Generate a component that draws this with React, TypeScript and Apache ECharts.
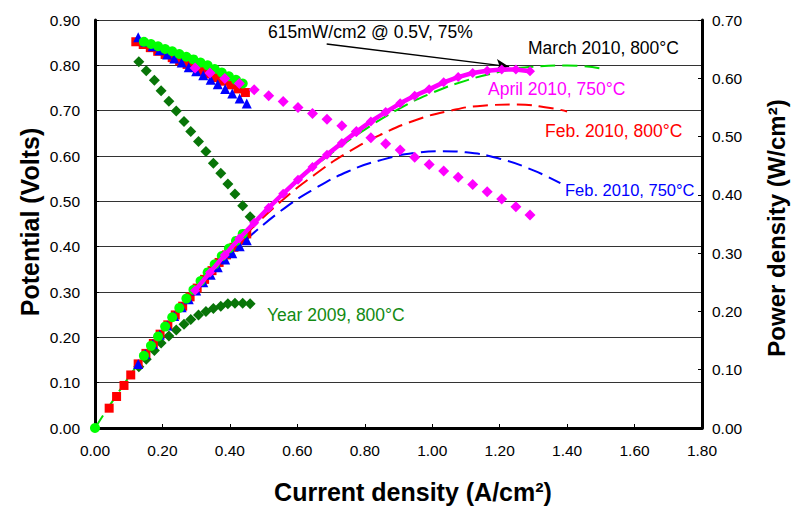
import React, { useEffect, useRef } from "react";
import * as echarts from "echarts";

// ---- Year 2009, 800°C (dark green diamonds)
const i2009 = [0.130, 0.152, 0.176, 0.196, 0.219, 0.241, 0.264, 0.284, 0.307, 0.329, 0.351, 0.373, 0.394, 0.415, 0.438, 0.460];
const v2009 = [0.808, 0.788, 0.767, 0.744, 0.721, 0.699, 0.676, 0.654, 0.632, 0.610, 0.584, 0.562, 0.538, 0.516, 0.490, 0.466];
const p2009 = [0.105, 0.118, 0.133, 0.146, 0.158, 0.168, 0.178, 0.186, 0.194, 0.200, 0.205, 0.209, 0.213, 0.214, 0.214, 0.213];

// ---- Feb. 2010, 800°C (red squares)
const iRedV = [0.121, 0.143, 0.164, 0.186, 0.208, 0.229, 0.251, 0.273, 0.294, 0.316, 0.338, 0.359, 0.381, 0.403, 0.424, 0.446];
const vRed = [0.852, 0.846, 0.839, 0.831, 0.824, 0.817, 0.810, 0.802, 0.795, 0.788, 0.781, 0.773, 0.765, 0.757, 0.748, 0.740];
const iRedP = [0.042, 0.064, 0.086, 0.106, 0.128, 0.151, 0.173, 0.193, 0.216, 0.238, 0.260, 0.282, 0.303, 0.325, 0.347, 0.368, 0.390, 0.412, 0.434, 0.450];
const pRed = [0.034, 0.054, 0.073, 0.091, 0.110, 0.128, 0.145, 0.161, 0.177, 0.194, 0.209, 0.225, 0.240, 0.255, 0.270, 0.284, 0.297, 0.310, 0.322, 0.333];
const iRedFit = [0.45, 0.55, 0.65, 0.75, 0.85, 0.95, 1.05, 1.15, 1.25, 1.35, 1.40];
const pRedFit = [0.334, 0.388, 0.434, 0.473, 0.504, 0.528, 0.544, 0.553, 0.555, 0.549, 0.543];

// ---- Feb. 2010, 750°C (blue triangles)
const iBlue = [0.128, 0.149, 0.171, 0.192, 0.214, 0.235, 0.257, 0.278, 0.300, 0.321, 0.343, 0.364, 0.386, 0.407, 0.429, 0.450];
const vBlue = [0.862, 0.852, 0.842, 0.833, 0.824, 0.815, 0.806, 0.796, 0.787, 0.778, 0.768, 0.758, 0.748, 0.738, 0.727, 0.716];
const pBlue = [0.110, 0.127, 0.144, 0.160, 0.176, 0.192, 0.207, 0.221, 0.236, 0.250, 0.263, 0.276, 0.289, 0.300, 0.312, 0.322];
const iBlueFit = [0.45, 0.55, 0.65, 0.75, 0.85, 0.95, 1.03, 1.10, 1.20, 1.30, 1.38];
const pBlueFit = [0.324, 0.372, 0.410, 0.440, 0.460, 0.472, 0.475, 0.473, 0.462, 0.442, 0.420];

// ---- March 2010, 800°C (green circles)
const iGreen = [0.145, 0.166, 0.187, 0.208, 0.229, 0.250, 0.271, 0.292, 0.313, 0.334, 0.355, 0.376, 0.397, 0.418, 0.438];
const vGreen = [0.852, 0.847, 0.842, 0.836, 0.831, 0.825, 0.819, 0.813, 0.806, 0.800, 0.792, 0.784, 0.776, 0.768, 0.760];
const iGreenP = [0, 0.145, 0.166, 0.187, 0.208, 0.229, 0.250, 0.271, 0.292, 0.313, 0.334, 0.355, 0.376, 0.397, 0.418, 0.438];
const pGreen = [0, 0.124, 0.141, 0.157, 0.174, 0.190, 0.206, 0.222, 0.237, 0.252, 0.267, 0.281, 0.295, 0.308, 0.321, 0.333];
const iGreenFit = [0, 0.1, 0.2, 0.3, 0.4, 0.5, 0.6, 0.7, 0.8, 0.9, 1.0, 1.1, 1.2, 1.3, 1.4, 1.5];
const pGreenFit = [0, 0.087, 0.167, 0.241, 0.308, 0.369, 0.423, 0.471, 0.512, 0.547, 0.575, 0.596, 0.611, 0.620, 0.622, 0.617];

// ---- April 2010, 750°C (magenta diamonds)
const iMag = [0.297, 0.341, 0.385, 0.428, 0.472, 0.515, 0.558, 0.602, 0.645, 0.688, 0.732, 0.775, 0.818, 0.862, 0.905, 0.948, 0.991, 1.034, 1.077, 1.120, 1.163, 1.206, 1.248, 1.290];
const vMag = [0.794, 0.783, 0.771, 0.760, 0.746, 0.733, 0.720, 0.707, 0.694, 0.681, 0.667, 0.654, 0.640, 0.627, 0.613, 0.597, 0.581, 0.567, 0.553, 0.537, 0.521, 0.505, 0.488, 0.470];
const pMag = [0.236, 0.267, 0.297, 0.325, 0.352, 0.378, 0.402, 0.426, 0.448, 0.469, 0.489, 0.508, 0.526, 0.542, 0.557, 0.570, 0.581, 0.593, 0.602, 0.609, 0.613, 0.615, 0.615, 0.612];

// annotation arrow (data coords on power axis)
const arrowFrom = [0.687, 0.659];
const arrowTo = [1.228, 0.620];

const FONT = '"Liberation Sans", Arial, sans-serif';

const zip = (a: number[], b: number[]) => a.map((x, i) => [x, b[i]]);

function scatter(name: string, xs: number[], ys: number[], symbol: string, size: number, color: string, yAxisIndex: number, z = 3) {
  return {
    type: "scatter",
    name,
    data: zip(xs, ys),
    symbol,
    symbolSize: size,
    itemStyle: { color, opacity: 1 },
    yAxisIndex,
    z,
  };
}

function fitLine(name: string, xs: number[], ys: number[], color: string) {
  return {
    type: "line",
    name,
    data: zip(xs, ys),
    symbol: "none",
    smooth: true,
    yAxisIndex: 1,
    lineStyle: { color, width: 2, type: [15, 7] },
    z: 2,
  };
}

function label(text: string, x: number, y: number, color: string, size = 17.5) {
  return {
    type: "text",
    x,
    y,
    style: { text, fill: color, font: `${size}px ${FONT}`, textVerticalAlign: "middle", textAlign: "left" },
    z: 10,
  };
}

export default function App() {
  const ref = useRef<HTMLDivElement>(null);
  useEffect(() => {
    document.body.style.margin = "0";
    const chart = echarts.init(ref.current!, null, { renderer: "svg" });
    const axisLabel = { color: "#000", fontSize: 15.5, fontFamily: FONT, formatter: (v: number) => v.toFixed(2) };
    const option: any = {
      animation: false,
      backgroundColor: "#fff",
      grid: { left: 95, right: 89, top: 20, bottom: 78, containLabel: false },
      xAxis: {
        type: "value",
        min: 0,
        max: 1.8,
        interval: 0.2,
        axisLine: { show: true, lineStyle: { color: "#000", width: 3 } },
        axisTick: { show: true, inside: true, length: 4, lineStyle: { color: "#000", width: 1 } },
        axisLabel: { ...axisLabel, margin: 14 },
        splitLine: { show: false },
      },
      yAxis: [
        {
          type: "value",
          min: 0,
          max: 0.9,
          interval: 0.1,
          position: "left",
          axisLine: { show: true, onZero: false, lineStyle: { color: "#000", width: 3 } },
          axisTick: { show: true, inside: true, length: 4, lineStyle: { color: "#000" } },
          axisLabel: { ...axisLabel, margin: 15 },
          splitLine: { show: true, lineStyle: { color: "#333", width: 1 } },
        },
        {
          type: "value",
          min: 0,
          max: 0.7,
          interval: 0.1,
          position: "right",
          axisLine: { show: true, onZero: false, lineStyle: { color: "#000", width: 3 } },
          axisTick: { show: true, inside: true, length: 4, lineStyle: { color: "#000" } },
          axisLabel: { ...axisLabel, margin: 10 },
          splitLine: { show: false },
        },
      ],
      series: [
        fitLine("Feb 800 fit", iRedFit, pRedFit, "#ff0000"),
        fitLine("Feb 750 fit", iBlueFit, pBlueFit, "#0000ff"),
        fitLine("March 800 fit", iGreenFit, pGreenFit, "#00dd00"),
        scatter("2009 V", i2009, v2009, "diamond", 11, "#087508", 0),
        scatter("2009 P", i2009, p2009, "diamond", 11, "#087508", 1),
        scatter("Feb 800 V", iRedV, vRed, "rect", 9, "#ff0000", 0),
        scatter("Feb 800 P", iRedP, pRed, "rect", 9, "#ff0000", 1),
        scatter("Feb 750 V", iBlue, vBlue, "triangle", 10, "#0000ff", 0),
        scatter("Feb 750 P", iBlue, pBlue, "triangle", 10, "#0000ff", 1),
        scatter("March 800 V", iGreen, vGreen, "circle", 10, "#00ff00", 0, 4),
        scatter("March 800 P", iGreenP, pGreen, "circle", 10, "#00ff00", 1, 4),
        scatter("April 750 V", iMag, vMag, "diamond", 11, "#ff00ff", 0, 5),
        {
          type: "line",
          name: "April 750 P",
          data: zip(iMag, pMag),
          yAxisIndex: 1,
          symbol: "diamond",
          symbolSize: 10,
          showSymbol: true,
          itemStyle: { color: "#ff00ff", opacity: 1 },
          lineStyle: { color: "#ff00ff", width: 4.5 },
          z: 5,
          markLine: {
            silent: true,
            symbol: ["none", "arrow"],
            symbolSize: [9, 13],
            label: { show: false },
            lineStyle: { color: "#000", width: 1.5, type: "solid" },
            data: [[{ coord: arrowFrom }, { coord: arrowTo }]],
          },
        },
      ],
      graphic: [
        label("615mW/cm2 @ 0.5V, 75%", 268, 32, "#000"),
        label("March 2010, 800°C", 528, 48, "#000"),
        label("April 2010, 750°C", 488, 89, "#ff00ff"),
        label("Feb. 2010, 800°C", 545, 131, "#ff0000"),
        label("Feb. 2010, 750°C", 565, 190, "#0000ff", 16.5),
        label("Year 2009, 800°C", 267, 315, "#128a12"),
        {
          type: "text",
          x: 30,
          y: 222,
          rotation: Math.PI / 2,
          style: { text: "Potential (Volts)", fill: "#000", font: `bold 25px ${FONT}`, textAlign: "center", textVerticalAlign: "middle" },
        },
        {
          type: "text",
          x: 776,
          y: 228,
          rotation: Math.PI / 2,
          style: { text: "Power density (W/cm²)", fill: "#000", font: `bold 24px ${FONT}`, textAlign: "center", textVerticalAlign: "middle" },
        },
        {
          type: "text",
          x: 413,
          y: 492,
          style: { text: "Current density (A/cm²)", fill: "#000", font: `bold 25px ${FONT}`, textAlign: "center", textVerticalAlign: "middle" },
        },
      ],
    };
    chart.setOption(option);
    return () => chart.dispose();
  }, []);
  return <div ref={ref} style={{ width: 791, height: 506 }} />;
}
